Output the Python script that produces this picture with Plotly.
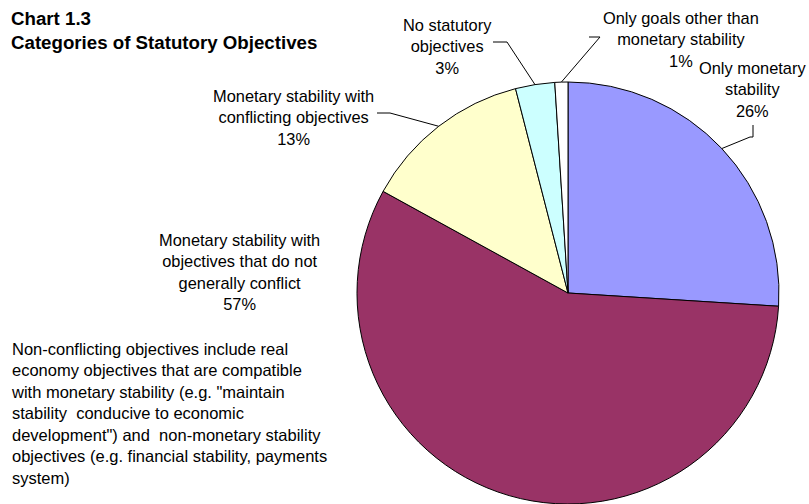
import math
import plotly.graph_objects as go

# ---- data ----
categories = [
    "Only monetary stability",
    "Monetary stability with objectives that do not generally conflict",
    "Monetary stability with conflicting objectives",
    "No statutory objectives",
    "Only goals other than monetary stability",
]
values = [26, 57, 13, 3, 1]
colors = ["#9999FF", "#993366", "#FFFFCC", "#CCFFFF", "#FFFFFF"]
label_texts = [
    "Only monetary<br>stability<br>26%",
    "Monetary stability with<br>objectives that do not<br>generally conflict<br>57%",
    "Monetary stability with<br>conflicting objectives<br>13%",
    "No statutory<br>objectives<br>3%",
    "Only goals other than<br>monetary stability<br>1%",
]
title_text = "<b>Chart 1.3<br>Categories of Statutory Objectives</b>"
note_text = ("Non-conflicting objectives include real<br>"
             "economy objectives that are compatible<br>"
             "with monetary stability (e.g. \"maintain<br>"
             "stability\u00a0 conducive to economic<br>"
             "development\") and\u00a0 non-monetary stability<br>"
             "objectives (e.g. financial stability, payments<br>"
             "system)")

# ---- layout geometry (pixels) ----
W, H = 809, 504
CX, CY, R = 568, 293, 211
FONT = "Arial, Liberation Sans, sans-serif"

def px(x):
    return x / W

def py(y):
    return 1 - y / H

fig = go.Figure(go.Pie(
    labels=categories,
    values=values,
    sort=False,
    direction="clockwise",
    rotation=0,
    marker=dict(colors=colors, line=dict(color="black", width=1)),
    textinfo="none",
    hoverinfo="label+percent",
    showlegend=False,
    domain=dict(x=[px(CX - R), px(CX + R)], y=[py(CY + R), py(CY - R)]),
))

# label positions (text block centre) and leader-line elbows, in pixels
label_pos = [(752, 89), (240, 272), (293, 117), (447, 46), (681, 40)]
leaders = {
    0: [(753, 125), (753, 137), (750, 137)],
    2: [(377, 113), (390, 113)],
    3: [(493, 42), (507, 42)],
    4: [(589, 37), (600, 37)],
}

annotations = []
for i, (t, (lx, ly)) in enumerate(zip(label_texts, label_pos)):
    annotations.append(dict(
        x=px(lx), y=py(ly), xref="paper", yref="paper",
        text=t, showarrow=False, align="center",
        xanchor="center", yanchor="middle",
        font=dict(family=FONT, size=16.4, color="black"),
    ))

annotations.append(dict(
    x=px(9), y=py(30), xref="paper", yref="paper",
    text=title_text, showarrow=False, align="left",
    xanchor="left", yanchor="middle",
    font=dict(family=FONT, size=18.7, color="black"),
))
annotations.append(dict(
    x=px(9), y=py(413), xref="paper", yref="paper",
    text=note_text, showarrow=False, align="left",
    xanchor="left", yanchor="middle",
    font=dict(family=FONT, size=16.5, color="black"),
))

# leader lines: elbows then to the slice mid-angle on the pie edge
total = sum(values)
shapes = []
cum = 0
mids = []
for v in values:
    mids.append((cum + v / 2) / total * 2 * math.pi)
    cum += v
for i, pts in leaders.items():
    a = mids[i]
    end = (CX + R * math.sin(a), CY - R * math.cos(a))
    seq = pts + [end]
    for (x0, y0), (x1, y1) in zip(seq[:-1], seq[1:]):
        shapes.append(dict(
            type="line", xref="paper", yref="paper",
            x0=px(x0), y0=py(y0), x1=px(x1), y1=py(y1),
            line=dict(color="black", width=1),
        ))

fig.update_layout(
    width=W, height=H,
    margin=dict(l=0, r=0, t=0, b=0),
    paper_bgcolor="white",
    plot_bgcolor="white",
    annotations=annotations,
    shapes=shapes,
)

fig.write_html("out.html")
